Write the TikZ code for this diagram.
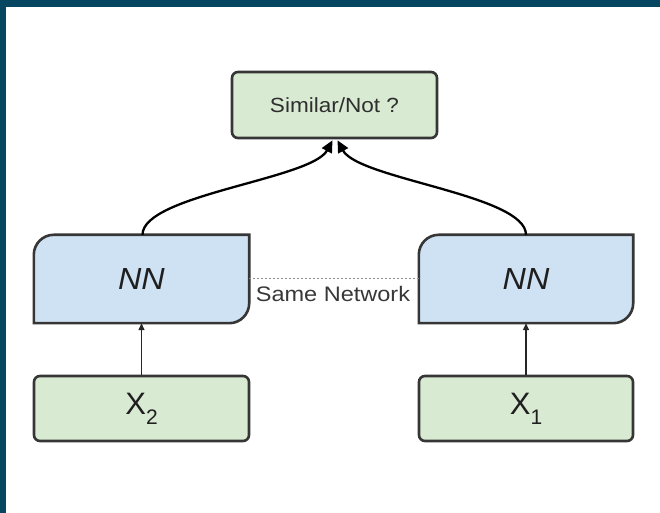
\documentclass[tikz,border=0pt]{standalone}
\usepackage{fontspec}
\setmainfont{Liberation Sans}
\usetikzlibrary{arrows.meta}
\definecolor{frame}{HTML}{064660}
\definecolor{boxgreen}{HTML}{D9EAD3}
\definecolor{boxblue}{HTML}{CFE2F3}
\definecolor{edge}{HTML}{363636}
\tikzset{
  x=1pt, y=1pt,
  greenbox/.style={rectangle, rounded corners=6pt, draw=edge, line width=2.6pt, fill=boxgreen, inner sep=0pt},
  nnbox/.style={rectangle, inner sep=0pt},
  nnshape/.style={draw=edge, line width=2.6pt, fill=boxblue},
  bigconn/.style={draw=black, line width=2.3pt, -{Triangle[length=12pt,width=11pt]}},
  smallconn/.style={draw=black!85, line width=1.3pt, -{Triangle[length=7pt,width=6pt]}},
  samenet/.style={draw=black!45, line width=0.8pt, dash pattern=on 2pt off 2pt},
}
\newcommand{\nnoutline}[2]{% node name, radius
  \path[nnshape] (#1.south west) -- ([yshift=-#2]#1.north west)
    arc[start angle=180,end angle=90,radius=#2] -- (#1.north east)
    -- ([yshift=#2]#1.south east) arc[start angle=0,end angle=-90,radius=#2] -- cycle;}
\begin{document}
\begin{tikzpicture}
\useasboundingbox (0,0) rectangle (660,513);
\fill[white] (0,0) rectangle (660,513);
\fill[frame] (0,506) rectangle (660,513);
\fill[frame] (0,0) rectangle (6,513);

% nodes
\node[greenbox, minimum width=205pt, minimum height=66pt] (sim) at (334.5,408)
  {\scalebox{1.1}[1]{\fontsize{20.5}{24}\selectfont\color{black!82}Similar/Not ?}};

\node[nnbox, minimum width=215pt, minimum height=88pt] (nnL) at (141.5,234) {};
\node[nnbox, minimum width=214pt, minimum height=88pt] (nnR) at (526,234) {};
\nnoutline{nnL}{20pt}
\nnoutline{nnR}{20pt}
\node at (nnL) {\scalebox{1.06}[1]{\fontsize{30.5}{34}\selectfont\itshape\color{black!88}NN}};
\node at (nnR) {\scalebox{1.06}[1]{\fontsize{30.5}{34}\selectfont\itshape\color{black!88}NN}};

\node[greenbox, minimum width=215pt, minimum height=65pt] (xL) at (141.5,104.5)
  {\fontsize{31}{34}\selectfont\color{black!88}X\raisebox{-0.6ex}{\fontsize{21}{24}\selectfont 2}};
\node[greenbox, minimum width=214pt, minimum height=65pt] (xR) at (526,104.5)
  {\fontsize{31}{34}\selectfont\color{black!88}X\raisebox{-0.6ex}{\fontsize{21}{24}\selectfont 1}};

% same network
\draw[samenet] ([yshift=1pt]nnL.east) -- ([yshift=1pt]nnR.east -| nnR.west);
\node (same) at (333,219) {\scalebox{1.12}[1]{\fontsize{21}{24}\selectfont\color{black!78}Same Network}};

% connectors
\draw[smallconn] (xL.north) -- (nnL.south);
\draw[smallconn] (xR.north) -- (nnR.south);
\draw[bigconn] ([xshift=1pt]nnL.north) .. controls +(0,40) and +(-21,-39) .. ([xshift=-2pt,yshift=-1pt]sim.south);
\draw[bigconn] (nnR.north) .. controls +(0,40) and +(21,-39) .. ([xshift=3pt,yshift=-1pt]sim.south);
\end{tikzpicture}
\end{document}
